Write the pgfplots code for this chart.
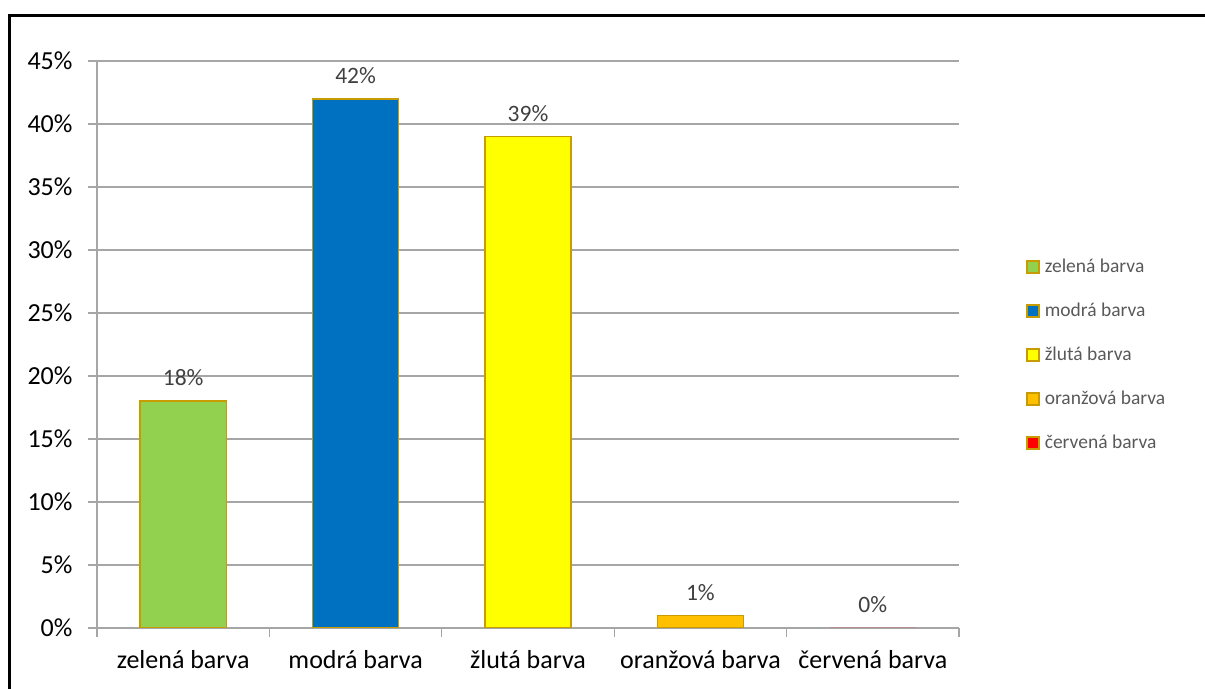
\documentclass[border=0pt]{standalone}
\usepackage{fontspec}
\setmainfont{Carlito}
\usepackage{pgfplots}
\pgfplotsset{compat=1.18}
\definecolor{gridgray}{RGB}{166,166,166}
\definecolor{edge}{RGB}{200,155,0}
\definecolor{cgreen}{RGB}{146,208,80}
\definecolor{cblue}{RGB}{0,112,192}
\definecolor{cyellow}{RGB}{255,255,0}
\definecolor{corange}{RGB}{255,192,0}
\definecolor{cred}{RGB}{255,0,0}
\definecolor{lbl}{RGB}{64,64,64}
\definecolor{legtxt}{RGB}{89,89,89}
\begin{document}
\begin{tikzpicture}
\useasboundingbox (0,0) rectangle (1205bp,689bp);
\clip (0,0) rectangle (1205bp,689bp);
\begin{axis}[
    at={(97bp,61bp)}, anchor=south west,
    scale only axis, width=862bp, height=567bp,
    xmin=-0.5, xmax=4.5, ymin=0, ymax=45,
    axis x line=bottom, axis y line=left,
    axis line style={draw=gridgray, line width=1.2bp, -},
    ytick={0,5,...,45},
    yticklabels={0\%,5\%,10\%,15\%,20\%,25\%,30\%,35\%,40\%,45\%},
    xtick={0,1,2,3,4},
    xticklabels={zelená barva,modrá barva,žlutá barva,oranžová barva,červená barva},
    minor xtick={-0.5,0.5,1.5,2.5,3.5,4.5},
    major x tick style={draw=none},
    minor x tick style={draw=gridgray, line width=1.2bp},
    major y tick style={draw=gridgray, line width=1.2bp},
    tick align=outside, major tick length=9bp, minor tick length=9bp,
    ymajorgrids, grid style={draw=gridgray, line width=1.2bp},
    tick label style={font=\fontsize{26bp}{30bp}\selectfont, text=black},
    yticklabel style={xshift=-12bp},
    xticklabel style={yshift=-10bp},
    /pgf/number format/assume math mode=true,
    ybar, bar width=0.5, bar shift=0pt,
    every axis plot/.append style={draw=edge, line width=1.5bp},
    nodes near coords={\pgfmathprintnumber{\pgfplotspointmeta}\%},
    every node near coord/.append style={font=\fontsize{23.5bp}{27bp}\selectfont, text=lbl, yshift=11bp},
    legend style={at={(1.074,0.481)}, anchor=west, draw=none, fill=none,
        font=\fontsize{19.5bp}{22bp}\selectfont, text=legtxt,
        nodes={text height=14bp, text depth=4bp, inner sep=2bp},
        row sep=22bp, column sep=3bp},
    legend cell align=left,
    legend image code/.code={\draw[#1, draw=edge, line width=1.8bp] (0bp,-6bp) rectangle (12bp,6bp);},
]
\addplot[fill=cgreen] coordinates {(0,18)};
\addlegendentry{zelená barva}
\addplot[fill=cblue] coordinates {(1,42)};
\addlegendentry{modrá barva}
\addplot[fill=cyellow] coordinates {(2,39)};
\addlegendentry{žlutá barva}
\addplot[fill=corange] coordinates {(3,1)};
\addlegendentry{oranžová barva}
\addplot[fill=cred, draw=none] coordinates {(4,0)};
\addlegendentry{červená barva}
\end{axis}
\draw[line width=3bp] (9bp,-10bp) -- (9bp,673.5bp) -- (1215bp,673.5bp);
\end{tikzpicture}
\end{document}
